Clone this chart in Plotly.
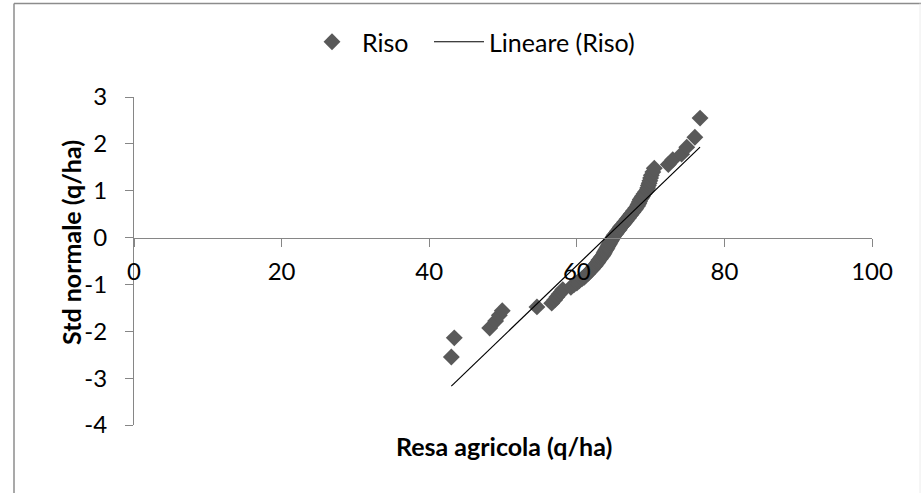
import plotly.graph_objects as go

# Data (normal probability plot)
resa = [43.0, 43.4, 48.2, 49.0, 49.5, 49.9, 54.6, 56.6, 57.0, 57.3, 57.6, 57.9, 58.1,
        59.2, 59.6, 60.0, 60.3, 60.7, 61.0, 61.2, 61.5, 61.7, 61.9, 62.1, 62.3, 62.5,
        62.6, 62.8, 62.9, 63.0, 63.2, 63.3, 63.5, 63.6, 63.7, 63.8, 63.9, 64.0, 64.1,
        64.2, 64.3, 64.4, 64.5, 64.6, 64.7, 64.8, 64.9,
        65.0, 65.1, 65.3, 65.4, 65.5, 65.7, 65.8, 65.9, 66.1, 66.2, 66.4, 66.5, 66.7,
        66.8, 67.0, 67.1, 67.3, 67.4, 67.6, 67.7, 67.9, 68.0, 68.2, 68.3, 68.4, 68.5,
        68.6, 68.8, 68.9, 69.1, 69.3, 69.5, 69.6, 69.7, 69.8, 69.9, 70.0, 70.1, 70.3,
        70.5, 72.4, 73.0, 74.2, 74.9, 76.0, 76.7]
std_normale = [-2.55, -2.14, -1.93, -1.78, -1.66, -1.56, -1.48, -1.40, -1.33, -1.27, -1.21,
               -1.16, -1.11, -1.06, -1.01, -0.97, -0.93, -0.88, -0.85, -0.81, -0.77, -0.73,
               -0.70, -0.67, -0.63, -0.60, -0.57, -0.54, -0.51, -0.48, -0.45, -0.42, -0.39,
               -0.36, -0.33, -0.30, -0.27, -0.25, -0.22, -0.19, -0.16, -0.135, -0.11, -0.08,
               -0.054, -0.027, 0.0,
               0.027, 0.054, 0.08, 0.11, 0.135, 0.16, 0.19, 0.22, 0.25, 0.27, 0.30, 0.33,
               0.36, 0.39, 0.42, 0.45, 0.48, 0.51, 0.54, 0.57, 0.60, 0.63, 0.67, 0.70, 0.73,
               0.77, 0.81, 0.85, 0.88, 0.93, 0.97, 1.01, 1.06, 1.11, 1.16, 1.21, 1.27, 1.33,
               1.40, 1.48, 1.56, 1.66, 1.78, 1.93, 2.14, 2.55]
trend_x = [43.0, 76.7]
trend_y = [-3.17, 1.93]

x_ticks = [0, 20, 40, 60, 80, 100]
y_ticks = [-4, -3, -2, -1, 0, 1, 2, 3]
y_tick_labels = ["-4", "-3", "-2", "-1", "0", "1", "2", "3"]

FONT = "Lato"
AXIS_GRAY = "#868686"

fig = go.Figure()
fig.add_trace(go.Scatter(
    x=resa, y=std_normale, mode="markers", name="Riso", legend="legend",
    marker=dict(symbol="diamond", size=13, color="#595959", line=dict(width=0)),
))
fig.add_trace(go.Scatter(
    x=trend_x, y=trend_y, mode="lines", name="Lineare (Riso)", legend="legend2",
    line=dict(color="black", width=1.2),
))

W, H = 921, 493
ml, mr, mt, mb = 134, 49, 97, 68
pw, ph = W - ml - mr, H - mt - mb

def px(xp):
    return (xp - ml) / pw

def py(yp):
    return (H - mb - yp) / ph

legend_common = dict(orientation="h", yanchor="middle", y=py(42), xanchor="left",
                     font=dict(size=25), itemwidth=50, bgcolor="rgba(0,0,0,0)")

fig.update_layout(
    width=W, height=H,
    margin=dict(l=ml, r=mr, t=mt, b=mb),
    paper_bgcolor="white", plot_bgcolor="white",
    font=dict(family=FONT, size=24, color="black"),
    showlegend=True,
    legend=dict(x=px(302), **legend_common),
    legend2=dict(x=px(429), **legend_common),
    xaxis=dict(range=[0, 100], tickvals=x_ticks, showgrid=False, zeroline=False,
               showline=True, linecolor=AXIS_GRAY, linewidth=1,
               ticks="outside", ticklen=8, tickcolor=AXIS_GRAY,
               anchor="free", position=4 / 7, ticklabelstandoff=5,
               tickfont=dict(size=24)),
    yaxis=dict(range=[-4, 3], tickvals=y_ticks, ticktext=y_tick_labels,
               showgrid=False, zeroline=False,
               showline=True, linecolor=AXIS_GRAY, linewidth=1,
               ticks="outside", ticklen=8, tickcolor=AXIS_GRAY,
               ticklabelstandoff=13, tickfont=dict(size=24)),
    annotations=[
        dict(text="<b>Resa agricola (q/ha)</b>", xref="paper", yref="paper",
             x=px(504), y=py(446), showarrow=False, xanchor="center", yanchor="middle",
             font=dict(size=25)),
        dict(text="<b>Std normale (q/ha)</b>", xref="paper", yref="paper",
             x=px(71), y=py(243), showarrow=False, textangle=-90,
             xanchor="center", yanchor="middle", font=dict(size=25)),
    ],
    shapes=[
        dict(type="line", xref="paper", yref="paper", x0=px(14), x1=px(921),
             y0=py(3.5), y1=py(3.5), line=dict(color="#8c8c8c", width=1.5)),
        dict(type="line", xref="paper", yref="paper", x0=px(14), x1=px(14),
             y0=py(3.5), y1=py(500), line=dict(color="#8c8c8c", width=1.5)),
        dict(type="line", xref="paper", yref="paper", x0=px(920), x1=px(920),
             y0=py(3.5), y1=py(500), line=dict(color="#ececec", width=1)),
    ],
)

fig.write_html("out.html")
